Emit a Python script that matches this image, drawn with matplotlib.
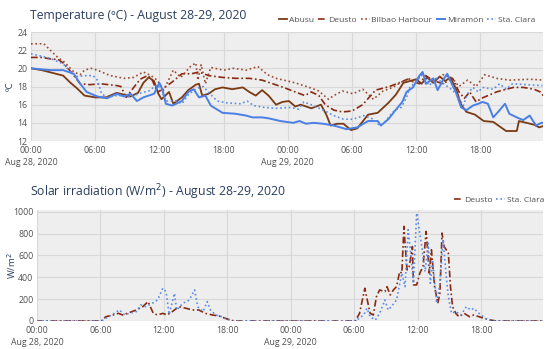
import matplotlib
matplotlib.use("Agg")
import matplotlib.pyplot as plt

plt.rcParams["font.family"] = ["Open Sans", "DejaVu Sans"]

# Temperature series (hours since Aug 28 00:00, degrees C)
abusu_h = [0, 1, 2, 3, 3.7, 4.3, 5, 6, 7, 8, 8.7, 9.3, 10, 10.5, 11, 11.5, 11.9, 12.2, 12.9, 13.3,
           14.1, 14.7, 15.4, 15.7, 16, 16.6, 17.2, 17.9, 18.8, 19.8, 20.4, 21, 21.6, 22.2, 22.9, 23.5,
           24.1, 24.7, 25.2, 26.2, 27.1, 27.6, 28, 28.6, 29.2, 29.9, 30.5, 31.5, 32.4, 33.4, 34.1, 34.8,
           35.4, 36, 36.5, 37, 37.6, 38.2, 38.7, 39.2, 39.7, 40.2, 40.7, 41.5, 42.3, 43.2, 44.4, 45.4,
           45.6, 47, 47.5, 48]
abusu_t = [20.0, 19.8, 19.5, 19.2, 18.4, 17.8, 17.0, 16.8, 16.8, 17.3, 17.1, 16.9, 17.3, 18.4, 19.0, 18.6,
           17.2, 16.6, 17.4, 16.1, 16.8, 17.6, 18.2, 18.3, 17.0, 17.2, 17.7, 17.9, 17.7, 17.9, 17.4, 17.0,
           17.6, 17.0, 16.0, 16.3, 16.4, 15.8, 16.0, 15.6, 16.0, 14.9, 13.7, 13.9, 13.9, 13.2, 13.4, 14.9,
           15.1, 16.2, 17.1, 18.4, 18.6, 18.8, 18.3, 19.0, 18.4, 19.1, 18.6, 19.0, 17.8, 16.0, 15.2, 14.9,
           14.2, 14.1, 13.1, 13.1, 14.2, 13.8, 13.5, 13.7]

deusto_h = [0, 1, 2, 2.5, 3, 3.6, 4, 4.6, 5.5, 6.5, 8, 8.4, 8.9, 9.6, 10.2, 10.9, 11.3, 11.8, 12.2, 12.6,
            13.2, 14.1, 15, 15.7, 16.6, 17.9, 19.1, 20.4, 21.6, 22.6, 23.6, 24.7, 25.6, 26.2, 26.9, 27.5,
            28.3, 29.1, 30, 31, 32.2, 33.5, 34.4, 35.2, 36.3, 36.9, 37.5, 38.5, 39.4, 40, 40.5, 41, 41.6,
            42.1, 42.7, 43.5, 44.4, 45.1, 46, 47, 47.6, 48]
deusto_t = [21.2, 21.2, 21.0, 21.0, 20.6, 19.8, 19.2, 18.3, 18.2, 18.3, 18.1, 18.0, 16.8, 17.9, 18.8, 19.2,
            18.8, 17.4, 17.6, 18.0, 18.5, 19.4, 19.4, 19.6, 19.2, 19.0, 18.9, 18.9, 18.7, 18.3, 17.9, 17.4,
            17.0, 17.4, 17.0, 16.0, 15.4, 15.2, 15.3, 16.0, 17.6, 18.0, 18.4, 18.8, 18.3, 19.2, 18.7, 18.3,
            18.9, 17.4, 16.7, 17.4, 16.3, 16.7, 17.0, 17.4, 17.7, 17.9, 17.9, 17.7, 17.4, 16.8]

bilbao_h = [0, 1.2, 1.8, 2.5, 3.1, 4, 4.6, 5.0, 5.6, 6.2, 7.4, 8.7, 9.6, 10.5, 11.2, 11.8, 12.4, 13.3, 14,
            14.9, 15.4, 15.6, 15.9, 16.3, 16.8, 18, 18.9, 20.1, 21.2, 22.1, 22.9, 24.7, 26, 26.9, 27.8,
            28.3, 29.1, 30.1, 31, 32, 32.9, 33.8, 34.8, 35.3, 35.8, 36.6, 37.5, 38.5, 39.4, 40, 40.8, 41.6,
            42.4, 43.5, 44.7, 46.6, 48]
bilbao_t = [22.7, 22.7, 22.0, 21.2, 20.7, 19.6, 19.3, 19.8, 20.0, 19.8, 19.2, 18.9, 19.0, 19.6, 19.2, 18.7,
            17.6, 19.8, 19.0, 20.2, 20.6, 18.7, 20.4, 18.3, 20.1, 19.8, 20.0, 19.8, 20.2, 19.3, 18.9, 18.4,
            17.9, 17.5, 16.6, 17.0, 17.5, 17.2, 17.7, 16.6, 17.5, 17.9, 18.6, 18.9, 18.4, 19.4, 18.6, 19.3,
            18.9, 18.0, 18.7, 18.0, 19.3, 18.9, 18.7, 18.8, 18.7]

miramon_h = [0, 1.8, 3.0, 4.0, 4.6, 5.2, 6.2, 7.1, 8.0, 8.7, 9.3, 9.9, 10.5, 11.5, 12.0, 12.3, 12.6, 13.2,
             14.1, 14.7, 15.2, 15.7, 16.3, 16.8, 17.9, 19.1, 20.1, 20.7, 21.6, 22.2, 23.3, 24.5, 25.1, 25.7,
             26.4, 27.3, 28.3, 29.5, 30.5, 31.5, 32.4, 32.7, 33.4, 34.0, 34.7, 35.1, 35.7, 36.3, 36.6, 36.9,
             37.6, 38.0, 38.5, 38.9, 39.4, 39.7, 40.2, 40.7, 41.3, 41.8, 42.2, 42.7, 43.2, 43.8, 44.3, 44.7,
             45.4, 46.0, 46.6, 47.2, 47.7, 48]
miramon_t = [20.0, 19.8, 19.8, 19.4, 18.3, 17.4, 16.9, 16.7, 17.2, 16.9, 17.2, 16.4, 16.8, 17.2, 18.4, 17.6,
             16.1, 15.9, 16.4, 17.4, 17.7, 16.8, 17.0, 15.9, 15.1, 15.0, 14.8, 14.6, 14.6, 14.5, 14.2, 14.0,
             14.2, 13.9, 14.0, 13.9, 13.7, 13.3, 13.5, 14.2, 14.2, 13.7, 14.4, 15.3, 16.3, 17.4, 17.9, 19.2,
             19.6, 18.3, 18.9, 17.6, 18.7, 19.4, 18.1, 17.4, 15.7, 15.4, 15.9, 16.1, 16.3, 16.1, 14.6, 15.4,
             16.1, 15.0, 14.6, 14.3, 14.8, 13.7, 14.0, 14.0]

staclara_h = [0, 1.8, 3.0, 3.7, 4.3, 5.2, 5.8, 6.2, 6.6, 7.1, 8.0, 8.7, 9.3, 9.6, 10.3, 11.0, 11.8, 12.2,
              12.6, 13.6, 14.1, 14.7, 15.5, 16.1, 16.8, 17.4, 18.3, 19.6, 20.2, 20.8, 21.8, 22.9, 24.3, 25.0,
              25.5, 26.4, 27.3, 28.3, 29.2, 30.1, 31.1, 32.0, 32.6, 33.0, 33.7, 34.0, 34.6, 35.1, 35.4, 36.0,
              36.6, 37.2, 37.9, 38.8, 39.4, 39.9, 40.4, 40.8, 41.3, 41.8, 42.2, 43.2, 43.8, 44.4, 45.0, 46.3,
              47.8]
staclara_t = [21.6, 21.1, 20.5, 19.6, 19.1, 19.2, 19.2, 18.7, 17.2, 16.8, 17.0, 17.0, 16.8, 17.0, 17.3, 17.5,
              18.2, 17.6, 16.4, 16.4, 16.1, 17.1, 17.8, 18.0, 17.1, 16.4, 16.2, 16.1, 16.4, 15.9, 15.7, 15.6,
              15.7, 15.5, 16.3, 15.9, 15.4, 14.8, 14.4, 14.4, 14.8, 14.4, 13.7, 14.0, 15.0, 15.4, 15.7, 16.8,
              17.9, 18.5, 19.4, 18.1, 18.9, 18.1, 17.6, 16.9, 15.9, 17.2, 17.9, 17.4, 17.9, 17.7, 18.3, 17.7,
              18.3, 18.2, 18.1]

# Solar irradiation (W/m2)
sol_deusto_h = [0, 6.1, 6.5, 7.2, 7.7, 8.1, 8.7, 9.4, 10.0, 10.5, 11.0, 11.4, 11.9, 12.3, 12.8, 13.4, 14.1,
                14.7, 15.3, 15.9, 16.6, 17.2, 17.8, 18.5, 18.8, 30.1, 30.5, 31.0, 31.5, 31.8, 32.1, 32.4,
                32.9, 33.1, 33.4, 33.7, 34.0, 34.3, 34.5, 34.7, 34.8, 35.0, 35.2, 35.5, 35.6, 35.9, 36.2,
                36.5, 36.8, 37.1, 37.3, 37.6, 37.9, 38.1, 38.3, 38.5, 38.7, 38.9, 39.1, 39.3, 39.6, 39.9,
                40.4, 40.9, 41.3, 41.8, 42.3, 42.9, 43.4, 47.85]
sol_deusto_w = [0, 0, 39, 55, 70, 55, 76, 101, 131, 177, 70, 55, 70, 55, 86, 131, 116, 101, 101, 70, 55, 46,
                24, 3, 0, 0, 70, 299, 70, 55, 223, 284, 269, 314, 238, 284, 314, 452, 437, 865, 712, 467,
                498, 681, 330, 330, 437, 498, 819, 437, 651, 314, 162, 253, 804, 681, 651, 620, 314, 131,
                70, 39, 70, 39, 55, 39, 24, 9, 0, 0]

sol_staclara_h = [0, 6.1, 6.5, 7.3, 7.8, 8.3, 8.7, 9.4, 9.8, 10.3, 10.9, 11.4, 11.9, 12.2, 12.5, 13.0, 13.2,
                  13.8, 14.4, 14.9, 15.2, 15.7, 16.1, 16.4, 16.9, 17.5, 18.1, 18.6, 30.1, 30.9, 31.2, 31.5,
                  32.0, 32.4, 32.9, 33.2, 33.5, 34.0, 34.5, 34.8, 35.1, 35.4, 35.6, 35.9, 36.2, 36.3, 36.7,
                  37.0, 37.2, 37.4, 37.8, 38.1, 38.4, 38.7, 38.9, 39.2, 39.6, 40.1, 40.6, 41.0, 41.3, 41.8,
                  42.4, 43.0, 47.85]
sol_staclara_w = [0, 0, 24, 70, 101, 55, 70, 86, 147, 131, 162, 192, 299, 269, 60, 253, 101, 162, 192, 284,
                  131, 86, 177, 101, 55, 39, 15, 0, 0, 55, 116, 39, 9, 70, 192, 101, 131, 192, 437, 314, 834,
                  559, 345, 987, 804, 743, 452, 712, 345, 559, 162, 345, 743, 406, 223, 70, 86, 55, 131, 101,
                  116, 70, 24, 0, 0]

tick_hours = [0, 6, 12, 18, 24, 30, 36, 42]
tick_labels = ["00:00\nAug 28, 2020", "06:00", "12:00", "18:00", "00:00\nAug 29, 2020",
               "06:00", "12:00", "18:00"]

c_abusu = "#7a3a14"
c_deusto = "#8a2a12"
c_bilbao = "#9c4a30"
c_miramon = "#4a7fe6"
c_staclara = "#5a8ce8"
txt = "#2a3f5f"
tick_c = "#505050"
W, H = 550, 349

fig = plt.figure(figsize=(5.5, 3.49), dpi=100)


def px_axes(x0, y0, x1, y1):
    return fig.add_axes([x0 / W, 1 - y1 / H, (x1 - x0) / W, (y1 - y0) / H])


def style(ax, ylab_x):
    ax.set_facecolor("#eeeeee")
    for s in ax.spines.values():
        s.set_visible(False)
    ax.grid(True, color="#d8d8d8", lw=0.8)
    ax.set_axisbelow(True)
    ax.tick_params(length=0, labelsize=6.3, colors=tick_c)
    ax.tick_params(axis="x", pad=3.5)
    ax.tick_params(axis="y", pad=2.5)
    ax.set_xticks(tick_hours)
    ax.set_xticklabels(tick_labels, ha="center", linespacing=1.45)
    ax.set_xlim(0, 47.85)
    # y label anchored (right edge of rotated text) at a fixed pixel column
    x0 = ax.get_position().x0 * W
    ax.yaxis.set_label_coords((ylab_x - x0) / (ax.get_position().width * W), 0.5)


dot = (1, 1.6)
dashdot = (4, 1.6, 1, 1.6)
leg_kw = dict(frameon=False, fontsize=6.1, handlelength=1.0, handletextpad=0.2, columnspacing=0.5,
              borderaxespad=0, borderpad=0, labelcolor=tick_c)

# Temperature panel
ax1 = px_axes(31, 32, 543, 141)
style(ax1, 15)
ax1.plot(abusu_h, abusu_t, color=c_abusu, lw=1.3, label="Abusu")
ax1.plot(deusto_h, deusto_t, color=c_deusto, lw=1.2, dashes=dashdot, label="Deusto")
ax1.plot(bilbao_h, bilbao_t, color=c_bilbao, lw=1.2, dashes=dot, label="Bilbao Harbour")
ax1.plot(miramon_h, miramon_t, color=c_miramon, lw=1.4, label="Miramón")
ax1.plot(staclara_h, staclara_t, color=c_staclara, lw=1.2, dashes=dot, label="Sta. Clara")
ax1.set_ylim(12, 24)
ax1.set_yticks([12, 14, 16, 18, 20, 22, 24])
ax1.set_ylabel("ºC", fontsize=6.8, color=txt)
fig.text(30 / W, 1 - 15 / H, "Temperature (ºC) - August 28-29, 2020", fontsize=8.8, color=txt, va="center")
ax1.legend(loc="center right", bbox_to_anchor=(535 / W, 1 - 20 / H), bbox_transform=fig.transFigure,
           ncol=5, **leg_kw)

# Solar panel
ax2 = px_axes(37, 210, 543, 321)
style(ax2, 18)
ax2.plot(sol_deusto_h, sol_deusto_w, color=c_deusto, lw=1.2, dashes=dashdot, label="Deusto")
ax2.plot(sol_staclara_h, sol_staclara_w, color=c_staclara, lw=1.2, dashes=dot, label="Sta. Clara")
ax2.set_ylim(0, 1015)
ax2.set_yticks([0, 200, 400, 600, 800, 1000])
ax2.set_ylabel("W/m$^2$", fontsize=6.8, color=txt)
fig.text(30 / W, 1 - 192 / H, "Solar irradiation (W/m$^2$) - August 28-29, 2020", fontsize=8.8, color=txt,
         va="center")
ax2.legend(loc="center right", bbox_to_anchor=(544 / W, 1 - 200 / H), bbox_transform=fig.transFigure,
           ncol=2, **leg_kw)

fig.savefig("out.png", dpi=100)
